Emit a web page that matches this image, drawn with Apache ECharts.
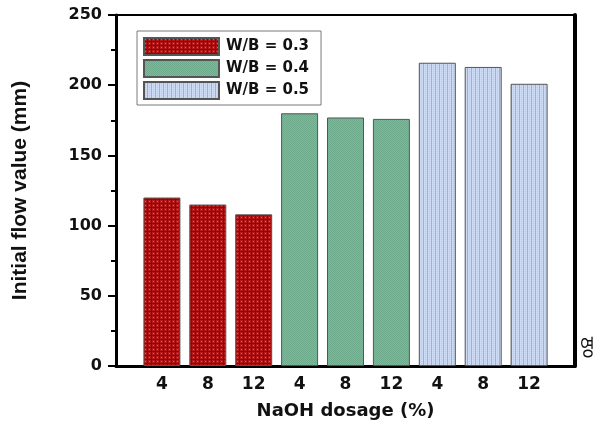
<!DOCTYPE html>
<html>
<head>
<meta charset="utf-8">
<script src="https://cdn.jsdelivr.net/npm/echarts@6/dist/echarts.min.js"></script>
<style>
  html, body { margin: 0; padding: 0; background: #fff; }
  #chart { width: 605px; height: 425px; }
</style>
</head>
<body>
<div id="chart"></div>
<script>
// NaOH dosage (%) labels repeated for each W/B group
const dosageLabels = ['4', '8', '12'];
const seriesNames = ['W/B = 0.3', 'W/B = 0.4', 'W/B = 0.5'];
// Initial flow value (mm)
const wb03 = [120, 115, 108];
const wb04 = [180, 177, 176];
const wb05 = [216, 213, 201];
const yTicks = [0, 50, 100, 150, 200, 250];

function makePattern(w, h, draw) {
  const c = document.createElement('canvas');
  c.width = w; c.height = h;
  draw(c.getContext('2d'));
  return { image: c, repeat: 'repeat' };
}

// red checker texture
const redFill = makePattern(4, 4, ctx => {
  ctx.fillStyle = '#B51818'; ctx.fillRect(0, 0, 4, 4);
  ctx.fillStyle = '#8C0808'; ctx.fillRect(0, 3, 4, 1); ctx.fillRect(3, 0, 1, 4);
  ctx.fillStyle = '#DD5A50'; ctx.fillRect(1, 1, 1, 1);
});
// green fine texture
const greenFill = makePattern(2, 2, ctx => {
  ctx.fillStyle = '#7DB99B'; ctx.fillRect(0, 0, 2, 2);
  ctx.fillStyle = '#6DAA8B'; ctx.fillRect(0, 0, 1, 1); ctx.fillRect(1, 1, 1, 1);
});
// blue vertical stripes
const blueFill = makePattern(4, 2, ctx => {
  ctx.fillStyle = '#CCDAF3'; ctx.fillRect(0, 0, 4, 2);
  ctx.fillStyle = '#98B0E2'; ctx.fillRect(3, 0, 1, 2);
  ctx.fillStyle = '#B6C9EE'; ctx.fillRect(1, 1, 1, 1);
});
const fills = [redFill, greenFill, blueFill];
const groups = [wb03, wb04, wb05];

const wideFont = { fontFamily: 'DejaVu Sans, sans-serif', fontWeight: 'bold', color: '#111' };
const narrowFont = { fontFamily: 'Liberation Sans, Arial, sans-serif', fontWeight: 'bold', color: '#111' };

const series = groups.map((vals, g) => ({
  name: seriesNames[g],
  type: 'bar',
  xAxisIndex: 0,
  yAxisIndex: 0,
  barWidth: 37,
  barGap: '-100%',
  itemStyle: { color: fills[g], borderColor: '#555', borderWidth: 1 },
  data: vals.map((v, j) => [g * 3 + j + 1, v])
}));

const chart = echarts.init(document.getElementById('chart'), null, { renderer: 'canvas' });
chart.setOption({
  animation: false,
  backgroundColor: '#fff',
  grid: { left: 116, right: 30, top: 15, bottom: 58 },
  legend: {
    orient: 'vertical',
    left: 137, top: 31,
    padding: [6, 12, 5, 6],
    itemWidth: 75, itemHeight: 17, itemGap: 3,
    icon: 'rect',
    backgroundColor: '#fff',
    borderColor: '#7a7a7a', borderWidth: 1, borderRadius: 0,
    textStyle: Object.assign({ fontSize: 15, padding: [0, 0, 0, 2] }, wideFont),
    data: seriesNames
  },
  xAxis: [{
    type: 'value', min: 0, max: 10, interval: 1,
    position: 'bottom',
    axisLine: { show: true, onZero: false, lineStyle: { color: '#000', width: 3 } },
    axisTick: { show: false },
    splitLine: { show: false },
    axisLabel: Object.assign({
      fontSize: 17, margin: 10,
      formatter: v => (v >= 1 && v <= 9) ? dosageLabels[(v - 1) % 3] : ''
    }, wideFont),
    name: 'NaOH dosage (%)', nameLocation: 'middle', nameGap: 36,
    nameTextStyle: Object.assign({ fontSize: 18 }, wideFont)
  }, {
    type: 'value', min: 0, max: 10, position: 'top',
    axisLine: { show: true, onZero: false, lineStyle: { color: '#000', width: 2 } },
    axisTick: { show: false }, axisLabel: { show: false }, splitLine: { show: false }
  }],
  yAxis: [{
    type: 'value', min: yTicks[0], max: yTicks[yTicks.length - 1], interval: 50,
    axisLine: { show: true, lineStyle: { color: '#000', width: 3 } },
    axisTick: { show: true, inside: false, length: 8, lineStyle: { color: '#000', width: 2 } },
    minorTick: { show: true, splitNumber: 2, length: 5, lineStyle: { color: '#000', width: 2 } },
    splitLine: { show: false },
    axisLabel: Object.assign({ fontSize: 16, margin: 14 }, wideFont),
    name: 'Initial flow value (mm)', nameLocation: 'middle', nameGap: 85,
    nameTextStyle: Object.assign({ fontSize: 21 }, narrowFont)
  }, {
    type: 'value', min: 0, max: 250, position: 'right',
    axisLine: { show: true, onZero: false, lineStyle: { color: '#000', width: 4 } },
    axisTick: { show: false }, axisLabel: { show: false }, splitLine: { show: false }
  }],
  graphic: [{
    type: 'text', x: 580, y: 336, scaleY: 1.35,
    style: { text: '영', fontSize: 16, fontFamily: 'Noto Sans CJK KR, sans-serif', fill: '#111', verticalAlign: 'top', align: 'left' }
  }],
  series: series
});
</script>
</body>
</html>
